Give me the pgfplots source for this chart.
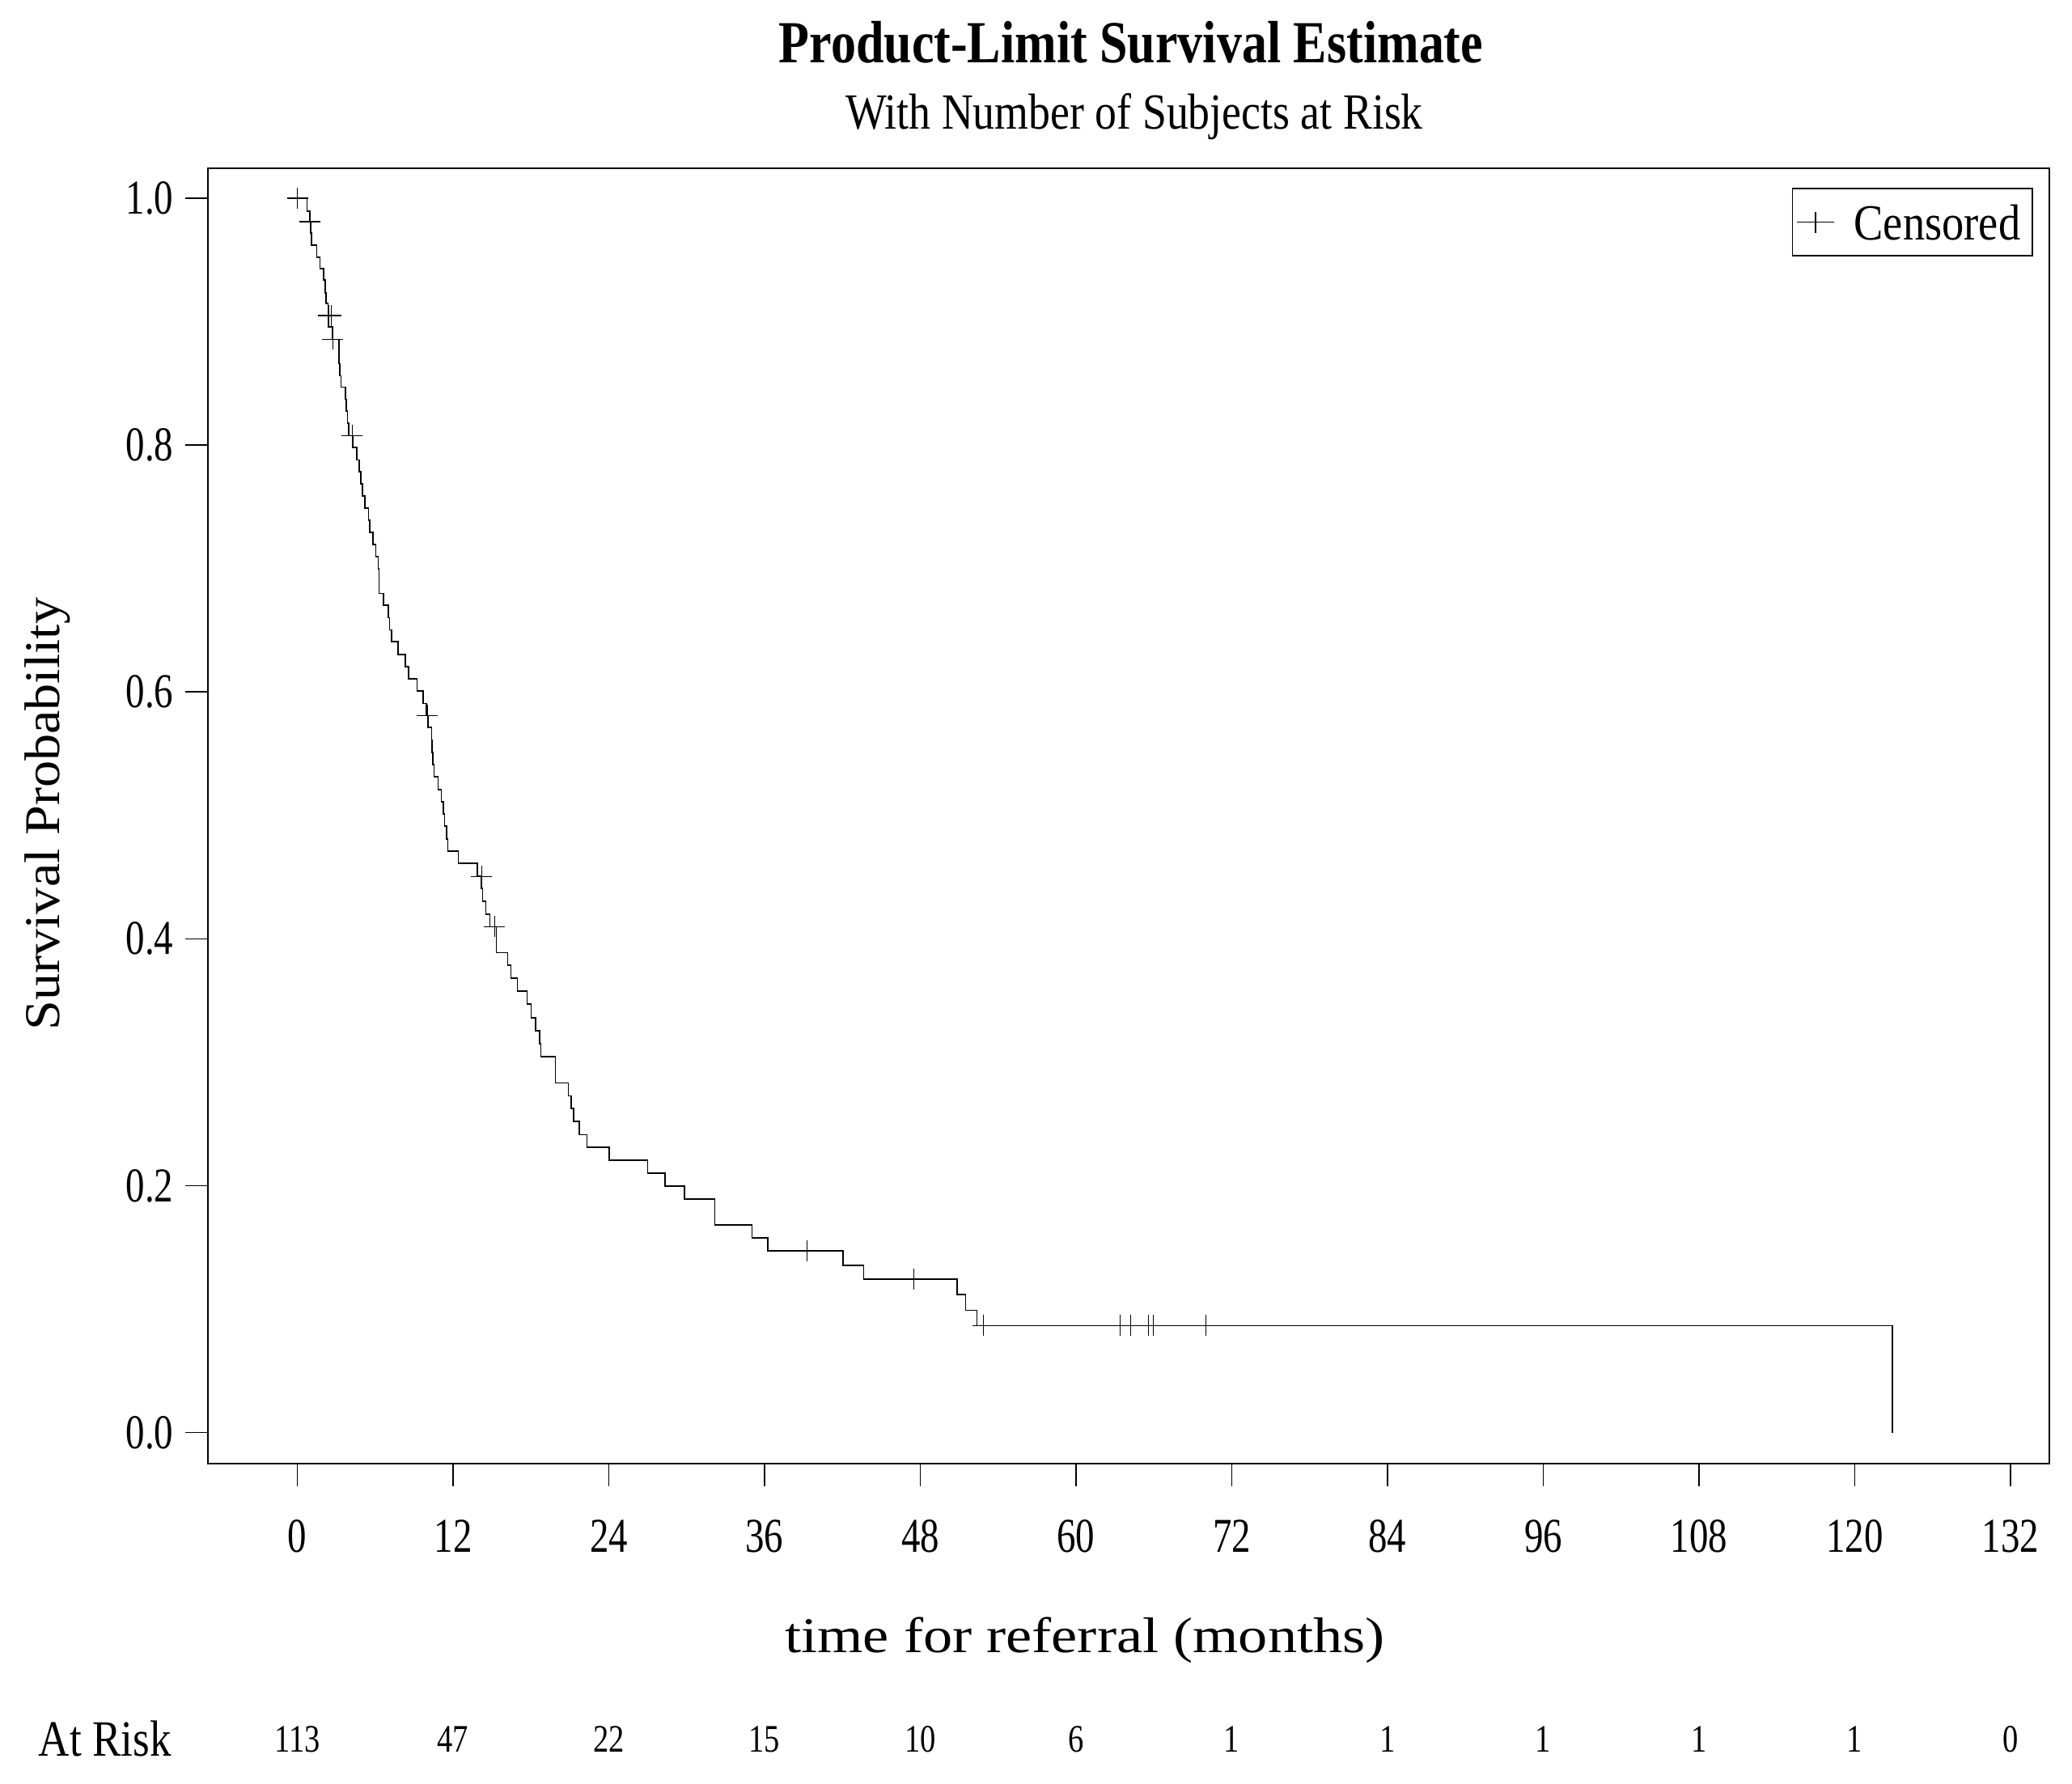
\documentclass[border=0pt]{standalone}
\usepackage{fontspec}
\setmainfont{Liberation Serif}
\newfontfamily\tickfont[FakeStretch=0.78]{Liberation Serif}
\newfontfamily\titlefont[FakeStretch=0.84]{Liberation Serif}
\newfontfamily\subfont[FakeStretch=0.86]{Liberation Serif}
\newfontfamily\legfont[FakeStretch=0.87]{Liberation Serif}
\newfontfamily\riskfont[FakeStretch=0.845]{Liberation Serif}
\newfontfamily\numfont[FakeStretch=0.8]{Liberation Serif}
\newfontfamily\ylabfont[FakeStretch=1.07]{Liberation Serif}
\newfontfamily\xlabfont[FakeStretch=1.17]{Liberation Serif}
\usepackage{pgfplots}
\pgfplotsset{compat=1.18}
\pgfplotsset{censor legend/.style={legend image code/.code={\path (0cm,0cm) -- (0.455cm,0cm); \draw[##1] plot coordinates {(0.225cm,0cm)};}}}

\pgfplotstableread{
t S
0 1.0
0.74 0.9897
0.95 0.981
1.03 0.9717
1.11 0.9618
1.49 0.952
1.74 0.9428
2.01 0.9336
2.17 0.9235
2.23 0.9148
2.36 0.905
2.42 0.8956
2.71 0.8857
3.23 0.866
3.29 0.8562
3.36 0.847
3.69 0.8372
3.79 0.8274
3.86 0.8176
3.98 0.8077
4.27 0.7983
4.60 0.788
4.75 0.7783
4.87 0.7684
5.04 0.7586
5.22 0.7488
5.48 0.739
5.60 0.7291
5.85 0.7193
6.04 0.7095
6.23 0.6997
6.29 0.6799
6.66 0.6701
7.03 0.6602
7.10 0.6504
7.28 0.6406
7.78 0.6301
8.34 0.6203
8.59 0.6105
9.22 0.6006
9.71 0.5907
9.96 0.5809
10.05 0.5711
10.34 0.5612
10.40 0.551
10.46 0.541
10.53 0.5311
10.84 0.5209
11.09 0.5108
11.27 0.501
11.34 0.4912
11.52 0.4807
11.59 0.4708
12.40 0.461
13.89 0.4505
14.20 0.4407
14.27 0.4302
14.52 0.4197
14.83 0.4098
15.33 0.3888
16.20 0.3784
16.45 0.3679
16.95 0.3574
17.70 0.3469
18.01 0.3358
18.38 0.3255
18.69 0.315
18.76 0.3043
19.88 0.2833
20.88 0.2728
21.12 0.2625
21.31 0.252
21.74 0.2413
22.31 0.2309
24.01 0.2206
26.99 0.2101
28.35 0.1996
29.81 0.1891
32.16 0.1681
35.03 0.1577
36.27 0.1472
42.07 0.1354
43.64 0.1242
50.86 0.1116
51.49 0.0991
52.36 0.0866
122.9 0.0
}\kmcurve

\pgfplotstableread{
t S
0 1.0
0.99 0.981
2.42 0.905
2.61 0.905
2.73 0.8857
4.23 0.8077
10.03 0.5809
14.20 0.4505
15.20 0.4098
39.28 0.1472
47.51 0.1242
52.86 0.0866
63.39 0.0866
64.20 0.0866
65.57 0.0866
65.95 0.0866
70.00 0.0866
}\censored

\begin{document}
\begin{tikzpicture}[x=1cm,y=1cm]
\path[use as bounding box] (0,0) rectangle (25.61,22.04);
\begin{axis}[
  at={(2.57cm,3.95cm)}, anchor=south west,
  scale only axis, width=22.76cm, height=16.01cm,
  xmin=-6.89, xmax=135.0, ymin=-0.0252, ymax=1.0243,
  axis line style={line width=0.45pt},
  xtick={0,12,...,132},
  ytick={0,0.2,0.4,0.6,0.8,1.0},
  tick pos=left, tick align=outside, major tick length=0.28cm,
  tick style={line width=0.45pt, black},
  xticklabel style={font=\tickfont\fontsize{17.1}{20}\selectfont, inner sep=0pt, anchor=north, yshift=-0.41cm,
     /pgf/number format/.cd, assume math mode=true},
  yticklabel style={font=\tickfont\fontsize{17.1}{20}\selectfont, inner sep=0pt, anchor=east, xshift=-0.14cm,
     /pgf/number format/.cd, fixed, fixed zerofill, precision=1, assume math mode=true},
  legend style={at={(rel axis cs:0.9912,0.985)}, anchor=north east, draw=black, line width=0.45pt,
     inner xsep=0.05cm, inner ysep=0.05cm, column sep=0.14cm,
     nodes={inner xsep=0.1cm, inner ysep=0.15cm, text depth=0pt},
     font=\legfont\fontsize{17.8}{20}\selectfont},
  clip=false,
]
\addplot[const plot, black, line width=0.5pt, forget plot] table[x=t,y=S] {\kmcurve};
\addplot[only marks, mark=+, mark size=0.13cm, black, mark options={line width=0.45pt}, censor legend]
  table[x=t,y=S] {\censored};
\addlegendentry{Censored}
\end{axis}
% titles and labels
\node[anchor=base, font=\titlefont\bfseries\fontsize{21}{24}\selectfont] at (13.98,21.26) {Product-Limit Survival Estimate};
\node[anchor=base, font=\subfont\fontsize{17.8}{20}\selectfont] at (14.02,20.44) {With Number of Subjects at Risk};
\node[anchor=base, font=\xlabfont\fontsize{17.6}{20}\selectfont] at (13.41,1.62) {time for referral (months)};
\node[anchor=base, rotate=90, font=\ylabfont\fontsize{17.6}{20}\selectfont] at (0.73,11.98) {Survival Probability};
\node[anchor=base west, inner sep=0pt, font=\riskfont\fontsize{17.9}{20}\selectfont] at (0.47,0.34) {At Risk};
\foreach \n [count=\k from 0] in {113,47,22,15,10,6,1,1,1,1,1,0} {
  \node[anchor=base, inner sep=0pt, font=\numfont\fontsize{13.7}{16}\selectfont] at ({3.675+1.9248*\k},0.39) {\n};
}
\end{tikzpicture}
\end{document}
